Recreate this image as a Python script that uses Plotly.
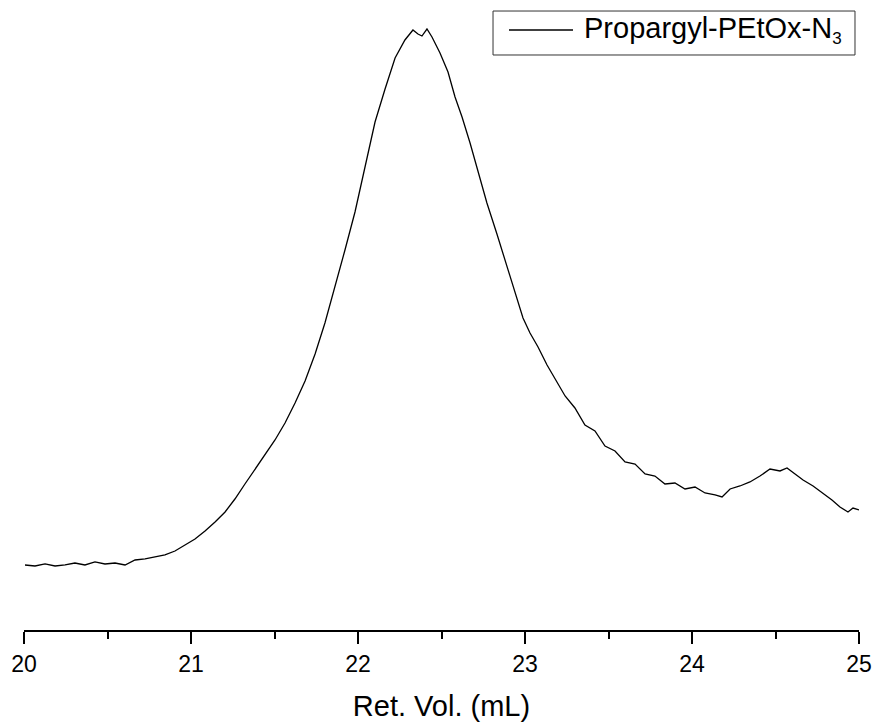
import plotly.graph_objects as go

# Retention volume (mL)
ret_vol = [
    20.006, 20.066, 20.126, 20.186, 20.246, 20.305, 20.365, 20.425, 20.485, 20.545,
    20.605, 20.665, 20.725, 20.784, 20.844, 20.904, 20.964, 21.024, 21.084, 21.144,
    21.204, 21.263, 21.323, 21.383, 21.443, 21.503, 21.563, 21.623, 21.683, 21.743,
    21.802, 21.862, 21.922, 21.982, 22.042, 22.102, 22.162, 22.222, 22.281, 22.329,
    22.359, 22.383, 22.413, 22.443, 22.491, 22.539, 22.581, 22.623, 22.671, 22.719,
    22.772, 22.832, 22.892, 22.940, 22.988, 23.030, 23.078, 23.132, 23.186, 23.240,
    23.299, 23.359, 23.419, 23.479, 23.539, 23.599, 23.659, 23.719, 23.778, 23.838,
    23.898, 23.958, 24.018, 24.078, 24.138, 24.180, 24.228, 24.287, 24.347, 24.407,
    24.467, 24.527, 24.569, 24.617, 24.665, 24.725, 24.784, 24.838, 24.886, 24.934,
    24.964, 25.000,
]

# Detector response (normalised, % of peak)
response = [
    0.00, -0.19, 0.19, -0.19, 0.00, 0.37, 0.00, 0.56, 0.19, 0.37,
    0.00, 0.93, 1.12, 1.49, 1.87, 2.61, 3.73, 4.85, 6.34, 8.02,
    9.89, 12.31, 15.11, 17.91, 20.71, 23.32, 26.49, 30.22, 34.33, 39.37,
    45.15, 51.87, 58.77, 65.86, 74.44, 82.65, 88.81, 94.59, 97.95, 99.81,
    99.07, 98.69, 100.00, 98.51, 95.52, 91.98, 87.31, 83.58, 78.73, 73.32,
    67.54, 61.75, 55.60, 50.93, 46.08, 43.28, 40.67, 37.31, 34.51, 31.53,
    29.29, 26.12, 25.00, 22.20, 21.27, 19.22, 18.84, 16.98, 16.60, 15.11,
    15.30, 14.18, 14.55, 13.43, 13.06, 12.69, 14.18, 14.74, 15.49, 16.60,
    17.91, 17.54, 18.10, 16.98, 15.86, 14.74, 13.43, 12.13, 10.82, 9.89,
    10.63, 10.26,
]

series_name = "Propargyl-PEtOx-N<sub><span style='font-size:17px'>3</span></sub>"
x_title = "Ret. Vol. (mL)"
x_ticks = [20, 21, 22, 23, 24, 25]

FONT = "Liberation Sans, Arial, sans-serif"

fig = go.Figure()
fig.add_trace(go.Scatter(
    x=ret_vol, y=response, mode="lines", name=series_name,
    line=dict(color="black", width=1.3), showlegend=False,
))

fig.update_layout(
    width=875, height=722,
    margin=dict(l=24, r=16, t=0, b=92),
    paper_bgcolor="white", plot_bgcolor="white",
    font=dict(family=FONT, color="black"),
    xaxis=dict(
        range=[20, 25], tickvals=x_ticks, ticks="outside", ticklen=12,
        tickwidth=2, tickcolor="black", showline=True, linewidth=2,
        linecolor="black", showgrid=False, zeroline=False,
        tickfont=dict(size=23, family=FONT, color="black"),
        title=dict(text=x_title, font=dict(size=29, family=FONT, color="black"), standoff=21),
        minor=dict(dtick=0.5, ticks="outside", ticklen=7, tickwidth=2, tickcolor="black", showgrid=False),
    ),
    yaxis=dict(range=[-12.13, 105.41], visible=False, showgrid=False, zeroline=False),
)

# Legend (drawn as a framed box with sample line and label)
fig.add_shape(type="rect", xref="paper", yref="paper",
              x0=0.5617, x1=0.9952, y0=0.9127, y1=0.9825,
              line=dict(color="#333333", width=1), fillcolor="white")
fig.add_shape(type="line", xref="paper", yref="paper",
              x0=0.5808, x1=0.6575, y0=0.9524, y1=0.9524,
              line=dict(color="black", width=1.3))
fig.add_annotation(xref="paper", yref="paper", x=0.6683, y=0.9524,
                   xanchor="left", yanchor="middle", showarrow=False,
                   text=series_name, font=dict(size=29, family=FONT, color="black"))

fig.write_html(
    "out.html",
    config={"displayModeBar": False},
    post_script="document.body.style.margin='0';document.body.style.overflow='hidden';",
)
